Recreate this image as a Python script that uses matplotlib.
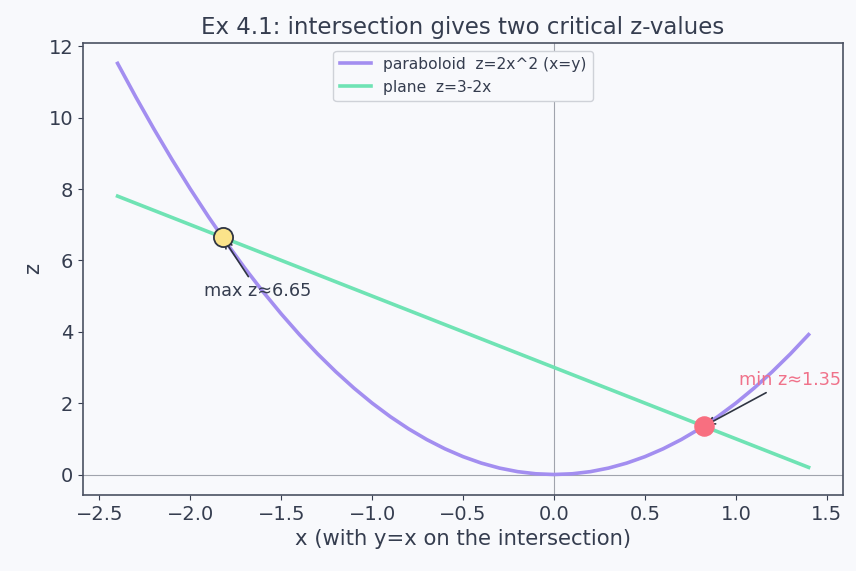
import matplotlib
matplotlib.use("Agg")
import matplotlib.pyplot as plt

# paraboloid along x=y
x_par = [-2.4, -2.3, -2.2, -2.1, -2.0, -1.9, -1.8, -1.7, -1.6, -1.5,
         -1.4, -1.3, -1.2, -1.1, -1.0, -0.9, -0.8, -0.7, -0.6, -0.5,
         -0.4, -0.3, -0.2, -0.1, 0.0, 0.1, 0.2, 0.3, 0.4, 0.5,
         0.6, 0.7, 0.8, 0.9, 1.0, 1.1, 1.2, 1.3, 1.4]
z_par = [11.52, 10.58, 9.68, 8.82, 8.0, 7.22, 6.48, 5.78, 5.12, 4.5,
         3.92, 3.38, 2.88, 2.42, 2.0, 1.62, 1.28, 0.98, 0.72, 0.5,
         0.32, 0.18, 0.08, 0.02, 0.0, 0.02, 0.08, 0.18, 0.32, 0.5,
         0.72, 0.98, 1.28, 1.62, 2.0, 2.42, 2.88, 3.38, 3.92]

# plane (straight line)
x_plane = [-2.4, 1.4]
z_plane = [7.8, 0.2]

# critical points
x_max, z_max = -1.823, 6.65
x_min, z_min = 0.823, 1.35

text_col = "#353d4f"
bg = "#f8f9fc"

plt.rcParams["text.color"] = text_col
plt.rcParams["axes.labelcolor"] = text_col
plt.rcParams["xtick.color"] = text_col
plt.rcParams["ytick.color"] = text_col

fig, ax = plt.subplots(figsize=(8.56, 5.71), dpi=100)
fig.patch.set_facecolor(bg)
ax.set_facecolor(bg)

ax.axhline(0, color="#a0a4ad", lw=0.8, zorder=1)
ax.axvline(0, color="#a0a4ad", lw=0.8, zorder=1)

ax.plot(x_par, z_par, color="#a38ef0", lw=2.6, label="paraboloid  z=2x^2 (x=y)", zorder=2)
ax.plot(x_plane, z_plane, color="#6fe3b4", lw=2.6, label="plane  z=3-2x", zorder=2)

ax.scatter([x_max], [z_max], s=190, color="#fbe38a", edgecolor="#2f3542", linewidth=1.3, zorder=4)
ax.scatter([x_min], [z_min], s=190, color="#f86f80", zorder=4)

ax.annotate("max z≈6.65", xy=(x_max, z_max), xytext=(-1.63, 5.15),
            ha="center", va="center", fontsize=12.7, color=text_col,
            arrowprops=dict(arrowstyle="->", color="#2f3542", lw=1.2))
ax.annotate("min z≈1.35", xy=(x_min, z_min), xytext=(1.3, 2.66),
            ha="center", va="center", fontsize=12.7, color="#f0728a",
            arrowprops=dict(arrowstyle="->", color="#2f3542", lw=1.2))

ax.set_title("Ex 4.1: intersection gives two critical z-values", fontsize=16.5, color=text_col)
ax.set_xlabel("x (with y=x on the intersection)", fontsize=15.2)
ax.set_ylabel("z", fontsize=15.2)
ax.tick_params(labelsize=14)

for s in ax.spines.values():
    s.set_color("#4b5162")
    s.set_linewidth(1.2)

leg = ax.legend(loc="upper center", fontsize=11.2, framealpha=1, facecolor=bg, edgecolor="#cfd2d8")

fig.subplots_adjust(left=0.097, right=0.985, top=0.925, bottom=0.133)
fig.savefig("out.png", dpi=100, facecolor=bg)
